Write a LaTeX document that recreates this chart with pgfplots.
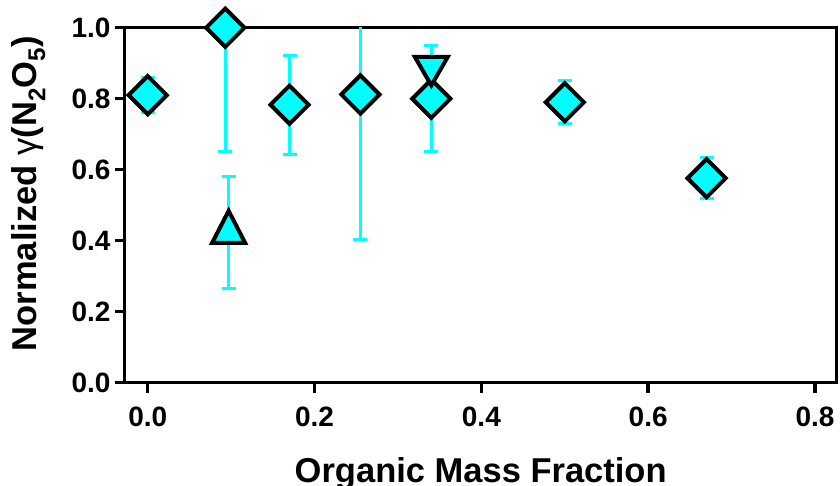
\documentclass[border=0pt]{standalone}
\usepackage{pgfplots}
\pgfplotsset{compat=1.18}
\usepackage{fontspec}
\setmainfont{Liberation Sans}
\definecolor{cy}{RGB}{0,255,255}
\begin{document}
\begin{tikzpicture}
\begin{axis}[
  name=ax,
  scale only axis, width=712pt, height=355pt,
  xmin=-0.0276, xmax=0.826, ymin=0, ymax=1.0,
  xtick={0,0.2,0.4,0.6,0.8}, xticklabels={0.0,0.2,0.4,0.6,0.8},
  ytick={0,0.2,0.4,0.6,0.8,1.0}, yticklabels={0.0,0.2,0.4,0.6,0.8,1.0},
  tick pos=left, tick align=outside, major tick length=10pt,
  axis line style={line width=3.5pt},
  every tick/.style={black, line width=3.5pt},
  tick label style={font=\fontsize{28}{28}\selectfont\bfseries, inner sep=0pt},
  xticklabel style={yshift=-14pt},
  yticklabel style={xshift=-4pt},
  xlabel={Organic Mass Fraction},
  ylabel={Normalized {\mdseries γ}(N\textsubscript{2}O\textsubscript{5})},
  every axis x label/.style={at={(axis description cs:0.5,-0.2825)}, anchor=base, font=\fontsize{34.5}{34.5}\selectfont\bfseries},
  every axis y label/.style={at={(axis description cs:-0.1232,0.533)}, rotate=90, anchor=base, font=\fontsize{34.5}{34.5}\selectfont\bfseries},
]
% error bars (behind markers)
\addplot[forget plot, cy, only marks, mark=none,
  error bars/.cd, y dir=both, y explicit, error mark=|,
  error bar style={draw=cy, line width=3pt},
  error mark options={draw=cy, line width=3pt, mark size=7pt}]
  table[x=x, y=y, y error=e] {
x y e
0.0 0.81 0.05
0.093 1.0 0.35
0.17 0.783 0.14
0.255 0.812 0.41
0.34 0.80 0.15
0.50 0.79 0.06
0.67 0.576 0.057
0.097 0.424 0.158
};
% diamonds
\addplot[only marks, mark=square*, mark size=13.5pt,
  mark options={rotate=45, fill=cy, draw=black, line width=4pt}]
  table[x=x, y=y] {
x y
0.0 0.81
0.093 1.0
0.17 0.783
0.255 0.812
0.34 0.80
0.50 0.79
0.67 0.576
};
% triangle up
\addplot[only marks, mark=triangle*, mark size=19pt,
  mark options={yscale=1.12, fill=cy, draw=black, line width=4pt}]
  table[x=x, y=y] {
x y
0.097 0.424
};
% triangle down
\addplot[only marks, mark=triangle*, mark size=19pt,
  mark options={rotate=180, fill=cy, draw=black, line width=4pt}]
  table[x=x, y=y] {
x y
0.34 0.891
};
\end{axis}
\pgfresetboundingbox
\path[use as bounding box] ([xshift=-124.7pt, yshift=-103.3pt]ax.south west) rectangle ++(840pt,486pt);
\end{tikzpicture}
\end{document}
